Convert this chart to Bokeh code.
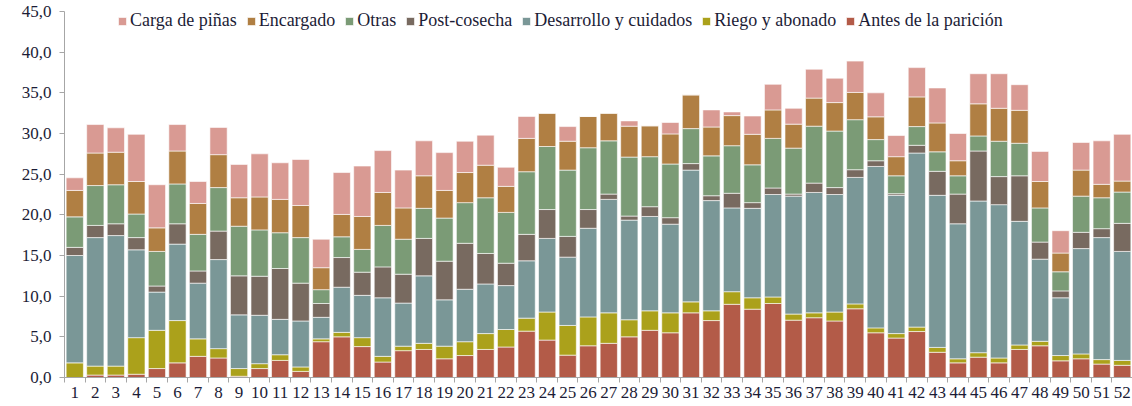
from bokeh.plotting import figure
from bokeh.models import ColumnDataSource, Range1d, FixedTicker, Legend
from bokeh.embed import file_html
from bokeh.resources import INLINE

weeks = list(range(1, 53))
week_labels = [str(w) for w in weeks]

antes = [0, 0.3, 0.3, 0.4, 1.1, 1.8, 2.6, 2.4, 0.15, 1.1, 2.1, 0.75, 4.4, 5.0, 3.8, 1.9, 3.3, 3.45, 2.3, 2.7,
         3.45, 3.75, 5.7, 4.6, 2.75, 3.9, 4.2, 5.0, 5.8, 5.5, 7.95, 7.0, 9.0, 8.4, 9.1, 7.05, 7.35, 6.95, 8.45, 5.5,
         4.85, 5.65, 3.1, 1.8, 2.5, 1.8, 3.45, 3.9, 2.05, 2.3, 1.65, 1.5]
riego = [1.8, 1.1, 1.1, 4.5, 4.7, 5.2, 2.15, 1.15, 0.95, 0.6, 0.7, 0.55, 0.35, 0.55, 1.1, 0.7, 0.55, 0.75, 1.55, 1.7,
         1.95, 2.15, 1.6, 3.45, 3.65, 3.55, 3.75, 2.1, 2.4, 2.45, 1.35, 1.2, 1.55, 1.4, 0.8, 0.75, 0.6, 1.1, 0.6, 0.6,
         0.55, 0.55, 0.6, 0.5, 0.55, 0.6, 0.55, 0.55, 0.65, 0.6, 0.55, 0.6]
desarrollo = [13.2, 15.8, 16.05, 10.8, 4.7, 9.4, 6.85, 10.95, 6.6, 5.95, 4.35, 5.65, 2.65, 5.55, 5.2, 7.2, 5.3, 8.3, 5.7, 6.45,
              6.1, 5.4, 7.05, 9.05, 8.4, 10.9, 13.95, 12.25, 11.6, 10.9, 16.2, 13.55, 10.3, 11.0, 12.6, 14.5, 14.8, 14.45, 15.55, 19.85,
              17.0, 21.4, 18.7, 16.6, 18.65, 18.85, 15.2, 10.1, 7.1, 12.95, 15.0, 13.4]
post = [1.0, 1.5, 1.45, 1.5, 0.75, 2.5, 1.5, 3.5, 4.8, 4.8, 6.25, 4.65, 1.7, 3.65, 2.85, 3.8, 3.55, 4.6, 4.75, 5.65,
        3.75, 2.75, 3.25, 3.55, 2.55, 2.3, 0.65, 0.5, 1.2, 0.8, 0.8, 0.6, 1.8, 0.7, 0.8, 0.25, 1.15, 0.85, 0.95, 0.7,
        0.2, 0.95, 2.95, 3.65, 6.15, 3.45, 5.6, 2.1, 0.85, 2.0, 1.1, 3.45]
otras = [3.75, 4.9, 4.8, 2.9, 4.25, 4.9, 4.5, 5.35, 6.1, 5.7, 4.4, 5.6, 1.7, 2.55, 2.8, 5.1, 4.3, 3.7, 5.3, 5.0,
         6.85, 6.25, 7.7, 7.75, 8.15, 7.6, 6.55, 7.25, 6.15, 6.6, 4.3, 4.9, 5.85, 4.65, 6.1, 5.65, 7.0, 6.95, 6.15, 2.6,
         2.2, 2.3, 2.4, 2.25, 1.85, 4.35, 4.0, 4.2, 2.35, 4.45, 3.8, 3.85]
encargado = [3.25, 4.0, 4.0, 4.0, 2.9, 4.05, 3.8, 4.05, 3.5, 4.05, 4.1, 3.95, 2.7, 2.75, 4.05, 4.05, 3.85, 4.0, 3.4, 3.7,
             4.0, 3.2, 4.1, 4.1, 3.55, 3.85, 3.4, 3.8, 3.8, 3.7, 4.15, 3.55, 3.7, 3.75, 3.5, 2.95, 3.45, 3.5, 3.35, 2.8,
             2.35, 3.65, 3.55, 1.85, 3.95, 4.05, 4.05, 3.25, 2.3, 3.2, 1.65, 1.35]
carga = [1.55, 3.5, 3.0, 5.8, 5.3, 3.25, 2.7, 3.35, 4.1, 5.3, 4.5, 5.65, 3.5, 5.15, 6.2, 5.15, 4.65, 4.3, 4.65, 3.85,
         3.7, 2.35, 2.7, 0, 1.8, 0, 0, 0.65, 0, 1.4, 0, 2.1, 0.45, 2.25, 3.15, 1.95, 3.55, 3.0, 3.85, 2.95,
         2.6, 3.6, 4.3, 3.35, 3.7, 4.25, 3.15, 3.7, 2.75, 3.4, 5.35, 5.75]

series_keys = ["antes", "riego", "desarrollo", "post", "otras", "encargado", "carga"]
series_names = ["Antes de la parición", "Riego y abonado", "Desarrollo y cuidados", "Post-cosecha",
                "Otras", "Encargado", "Carga de piñas"]
series_colors = ["#B35B48", "#ABA11B", "#7A9797", "#786A60", "#7B9B76", "#B07F43", "#D99A93"]

y_ticks = [0, 5, 10, 15, 20, 25, 30, 35, 40, 45]
y_tick_labels = ["0,0", "5,0", "10,0", "15,0", "20,0", "25,0", "30,0", "35,0", "40,0", "45,0"]

source = ColumnDataSource(dict(x=weeks, antes=antes, riego=riego, desarrollo=desarrollo, post=post,
                               otras=otras, encargado=encargado, carga=carga))

FONT = "Liberation Serif"
TEXT_COLOR = "#1c1c36"
AXIS_COLOR = "#a6a6a6"

W, H = 1132, 406
TOP, BOTTOM, LEFT = 11, 29, 64
FRAME_H = H - TOP - BOTTOM

p = figure(width=W, height=H, output_backend="svg", toolbar_location=None,
           x_range=Range1d(0.5, 52.5), y_range=Range1d(0, 45),
           min_border_left=LEFT, min_border_right=0, min_border_top=TOP, min_border_bottom=BOTTOM)
p.outline_line_color = None
p.xgrid.grid_line_color = None
p.ygrid.grid_line_color = None
p.background_fill_color = "white"
p.border_fill_color = "white"

renderers = p.vbar_stack(series_keys, x="x", width=0.84, color=series_colors, source=source,
                         line_color="white", line_width=1, line_alpha=0.6)

legend = Legend(items=[(name, [r]) for name, r in reversed(list(zip(series_names, renderers)))],
                orientation="horizontal", location=(53, FRAME_H - 20),
                background_fill_alpha=0, border_line_color=None,
                padding=0, margin=0, spacing=9, label_standoff=3,
                glyph_width=10, glyph_height=10, label_height=20,
                label_text_font=FONT, label_text_font_size="18px", label_text_color=TEXT_COLOR)
p.add_layout(legend, "center")

# y axis
p.yaxis.ticker = FixedTicker(ticks=y_ticks, minor_ticks=[])
p.yaxis.major_label_overrides = {t: l for t, l in zip(y_ticks, y_tick_labels)}
p.yaxis.axis_line_color = AXIS_COLOR
p.yaxis.major_tick_line_color = AXIS_COLOR
p.yaxis.major_tick_out = 5
p.yaxis.major_tick_in = 0
p.yaxis.minor_tick_line_color = None
p.yaxis.major_label_standoff = 8
p.yaxis.major_label_text_font = FONT
p.yaxis.major_label_text_font_size = "17px"
p.yaxis.major_label_text_color = TEXT_COLOR

# x axis
p.xaxis.ticker = FixedTicker(ticks=weeks, minor_ticks=[w + 0.5 for w in [0] + weeks])
p.xaxis.major_label_overrides = {w: l for w, l in zip(weeks, week_labels)}
p.xaxis.axis_line_color = AXIS_COLOR
p.xaxis.major_tick_line_color = None
p.xaxis.major_tick_out = 5
p.xaxis.major_tick_in = 0
p.xaxis.minor_tick_line_color = AXIS_COLOR
p.xaxis.minor_tick_out = 5
p.xaxis.minor_tick_in = 0
p.xaxis.major_label_standoff = 4
p.xaxis.major_label_text_font = FONT
p.xaxis.major_label_text_font_size = "17px"
p.xaxis.major_label_text_color = TEXT_COLOR

open("out.html", "w").write(file_html(p, INLINE))
